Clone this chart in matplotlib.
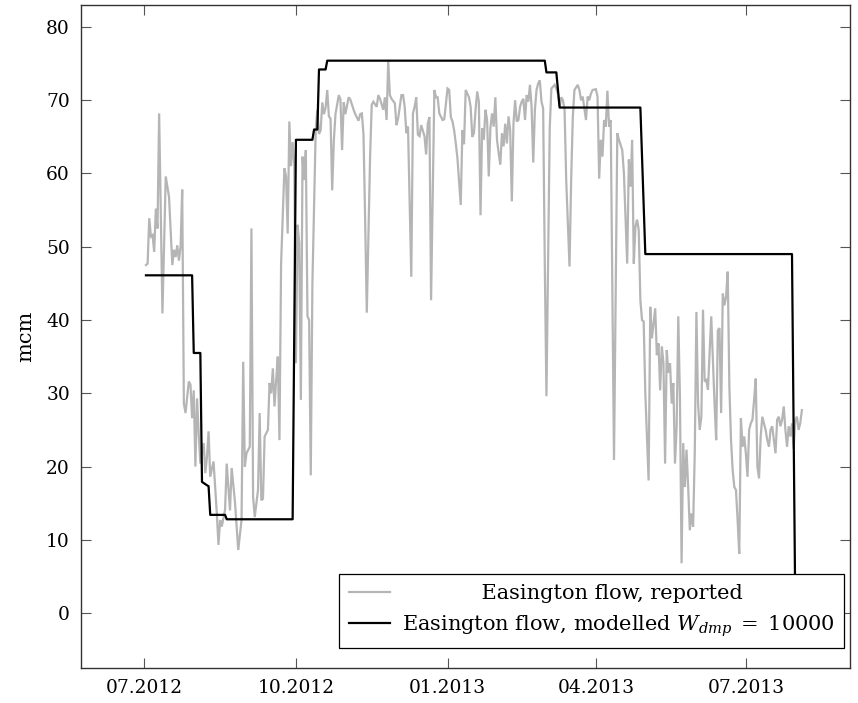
import numpy as np
import matplotlib
matplotlib.use("Agg")
import matplotlib.pyplot as plt
import matplotlib.dates as mdates
from matplotlib.lines import Line2D

plt.rcParams['font.family'] = ['DejaVu Serif']
plt.rcParams['mathtext.fontset'] = 'dejavuserif'

START = np.datetime64('2012-07-01')

# Reported daily flow (day offset from 1 July 2012, mcm)
reported_days = [
    1, 2, 3, 4, 5, 6, 7, 8, 9, 11, 13, 15, 17, 18, 19, 20, 21, 22, 23, 24,
    25, 27, 28, 29, 30, 31, 32, 33, 34, 36, 37, 38, 39, 40, 42, 44, 45, 46, 47, 49,
    50, 52, 53, 55, 56, 57, 59, 60, 61, 62, 64, 65, 66, 67, 69, 70, 71, 72, 73, 75,
    76, 77, 78, 79, 80, 81, 82, 83, 85, 86, 87, 88, 89, 90, 91, 92, 93, 94, 95, 96,
    97, 98, 99, 100, 101, 102, 104, 105, 106, 107, 108, 109, 110, 111, 112, 113, 114, 115, 116, 118,
    119, 120, 121, 122, 124, 125, 127, 128, 130, 131, 132, 133, 134, 135, 137, 138, 139, 141, 142, 143,
    145, 146, 147, 148, 149, 150, 152, 153, 154, 156, 157, 158, 159, 160, 162, 163, 164, 165, 166, 167,
    168, 170, 171, 172, 173, 174, 176, 177, 178, 179, 181, 182, 184, 185, 186, 187, 188, 189, 190, 192,
    193, 194, 195, 197, 198, 199, 200, 201, 202, 203, 204, 205, 206, 207, 208, 209, 210, 211, 212, 213,
    214, 215, 216, 217, 218, 219, 220, 221, 222, 223, 224, 225, 226, 227, 228, 229, 230, 231, 232, 233,
    234, 235, 236, 237, 238, 239, 240, 241, 242, 243, 244, 246, 247, 249, 250, 251, 252, 253, 254, 255,
    256, 258, 259, 260, 261, 263, 264, 265, 266, 268, 269, 270, 271, 272, 274, 275, 276, 277, 278, 279,
    280, 281, 282, 283, 285, 287, 288, 290, 291, 292, 293, 294, 295, 296, 297, 298, 299, 300, 301, 302,
    303, 304, 306, 307, 308, 310, 311, 312, 313, 314, 315, 316, 317, 318, 319, 320, 321, 322, 323, 324,
    325, 326, 327, 328, 329, 330, 331, 332, 333, 334, 335, 336, 337, 338, 339, 340, 341, 342, 344, 345,
    346, 347, 348, 349, 350, 351, 352, 353, 354, 355, 356, 357, 358, 359, 360, 361, 362, 363, 364, 365,
    366, 367, 368, 369, 370, 371, 372, 373, 374, 375, 376, 377, 378, 379, 380, 381, 382, 383, 384, 385,
    386, 387, 388, 389, 390, 391, 392, 393, 394, 395, 396, 397, 398, 399,
]
reported_values = [
    47.5, 47.7, 53.9, 51.4, 51.6, 49.3, 55.2, 52.5, 68.2, 40.9, 59.6, 56.8, 47.5, 49.6, 48.6, 50.2, 48.1, 50.0, 57.8, 28.6,
    27.3, 31.6, 31.2, 26.6, 30.4, 20.0, 29.3, 24.5, 20.4, 23.2, 19.1, 21.3, 24.8, 18.6, 20.7, 13.6, 9.3, 12.7, 11.8, 14.1,
    20.4, 14.0, 19.8, 15.2, 11.8, 8.6, 12.7, 34.3, 20.0, 21.8, 22.7, 52.5, 15.9, 13.1, 16.8, 27.3, 15.4, 15.6, 24.1, 25.0,
    31.4, 30.0, 33.4, 28.2, 31.8, 35.0, 23.6, 47.7, 60.7, 59.6, 51.8, 67.1, 61.0, 64.3, 61.3, 34.1, 53.0, 50.5, 29.1, 62.3,
    59.1, 63.2, 40.5, 40.0, 18.8, 45.0, 65.9, 68.7, 65.4, 65.9, 69.7, 68.1, 69.0, 71.4, 67.8, 67.5, 57.7, 64.5, 68.1, 70.7,
    70.1, 63.2, 69.7, 68.1, 70.4, 70.1, 68.7, 68.1, 67.2, 68.1, 68.2, 65.3, 53.7, 41.0, 62.3, 69.4, 69.8, 69.1, 70.7, 70.2,
    68.7, 70.4, 67.3, 75.3, 70.7, 70.2, 69.6, 66.6, 67.5, 70.7, 70.7, 69.1, 65.5, 66.4, 45.9, 68.2, 69.1, 70.4, 65.3, 65.1,
    66.6, 65.1, 62.6, 66.8, 67.7, 42.7, 71.4, 70.4, 70.4, 68.2, 67.3, 67.4, 71.6, 71.4, 67.7, 67.1, 65.9, 64.1, 62.1, 55.7,
    65.9, 64.0, 71.4, 70.4, 69.1, 65.0, 65.5, 68.7, 71.2, 69.8, 54.3, 66.2, 64.6, 68.7, 67.3, 59.6, 66.2, 68.2, 66.4, 70.4,
    64.6, 62.8, 61.2, 65.5, 63.7, 66.8, 64.1, 67.8, 65.9, 56.2, 66.8, 70.0, 67.1, 67.3, 69.1, 69.8, 70.2, 67.3, 70.7, 69.8,
    72.1, 69.1, 61.5, 68.7, 71.4, 72.3, 72.7, 69.8, 68.9, 47.7, 29.6, 66.2, 71.6, 72.1, 71.6, 70.9, 69.1, 70.4, 70.0, 68.7,
    59.1, 47.3, 59.1, 67.7, 71.4, 72.1, 71.4, 70.0, 70.5, 67.3, 70.5, 70.0, 70.9, 71.4, 71.5, 70.5, 59.3, 64.6, 62.3, 67.3,
    66.4, 71.3, 66.4, 67.3, 20.9, 65.5, 64.6, 63.2, 60.1, 54.1, 47.7, 61.9, 58.2, 64.6, 47.7, 52.7, 53.7, 52.3, 42.7, 40.0,
    39.8, 30.0, 18.1, 41.8, 37.5, 41.6, 35.2, 36.8, 30.4, 36.4, 34.1, 20.4, 35.9, 32.8, 34.1, 28.6, 31.4, 20.4, 25.4, 40.5,
    29.5, 6.8, 23.2, 17.2, 22.3, 17.2, 11.3, 13.6, 11.8, 21.8, 41.1, 28.6, 25.0, 26.8, 41.4, 31.6, 31.8, 30.5, 40.5, 34.5,
    28.6, 23.6, 38.6, 38.9, 27.3, 43.6, 42.0, 43.2, 46.6, 30.9, 23.6, 19.5, 17.2, 16.8, 12.7, 8.1, 26.6, 22.7, 24.1, 21.8,
    18.6, 25.0, 25.9, 26.4, 29.1, 32.0, 20.0, 18.4, 24.1, 26.8, 25.9, 25.0, 23.6, 22.7, 25.0, 25.5, 23.6, 21.8, 26.4, 26.8,
    25.5, 26.4, 28.2, 25.0, 22.7, 25.5, 24.1, 25.9, 22.4, 26.4, 26.8, 25.0, 25.9, 27.7,
]

# Modelled flow with W_dmp = 10000 (day offset, mcm)
model_days = [1, 29, 30, 34, 35, 39, 40, 49, 50, 90, 92, 102, 103, 105, 106, 110, 111,
              243, 244, 250, 252, 301, 304, 393, 395]
model_values = [46.1, 46.1, 35.5, 35.5, 17.9, 17.3, 13.4, 13.4, 12.8, 12.8, 64.6, 64.6, 66.0,
                66.0, 74.2, 74.2, 75.4, 75.4, 73.8, 73.8, 69.0, 69.0, 49.0, 49.0, 0.5]

tick_dates = ['2012-07-01', '2012-10-01', '2013-01-01', '2013-04-01', '2013-07-01']
y_ticks = [0, 10, 20, 30, 40, 50, 60, 70, 80]

# first entry is padded so that it sits centred over the wider second entry
label_reported = ' ' * 12 + 'Easington flow, reported'
label_model = r'Easington flow, modelled $W_{dmp}\;=\;10000$'


def to_dates(days):
    return START + np.round(np.array(days) * 24).astype(int) * np.timedelta64(1, 'h')


fig = plt.figure(figsize=(8.58, 7.03), dpi=100)
ax = fig.add_axes([0.0944, 0.0498, 0.8963, 0.9431])

gray = '#b5b5b5'
ax.plot(to_dates(reported_days), reported_values, color=gray, lw=1.6,
        solid_joinstyle='miter', zorder=2)
ax.plot(to_dates(model_days), model_values, color='black', lw=1.6, zorder=3)

ax.set_xlim(START - np.timedelta64(922, 'h'), START + np.timedelta64(10277, 'h'))
ax.set_ylim(-7.5, 83)

ax.set_xticks([np.datetime64(d) for d in tick_dates])
ax.xaxis.set_major_formatter(mdates.DateFormatter('%m.%Y'))
ax.set_yticks(y_ticks)

ax.tick_params(direction='in', length=7.5, width=0.8, color='#555555',
               labelsize=13.4, top=True, right=True, pad=8)
for s in ax.spines.values():
    s.set_color('#333333')
    s.set_linewidth(1.0)

ax.set_ylabel('mcm', fontsize=15, labelpad=8)

handles = [Line2D([], [], color=gray, lw=1.6), Line2D([], [], color='black', lw=1.6)]
leg = ax.legend(handles, [label_reported, label_model], loc='lower right',
                bbox_to_anchor=(0.992, 0.03), borderaxespad=0, fontsize=15,
                fancybox=False, framealpha=1, edgecolor='black',
                handlelength=2.0, handletextpad=0.55, borderpad=0.45,
                labelspacing=0.5)
leg.get_frame().set_linewidth(0.9)

fig.savefig('out.png', dpi=100)
